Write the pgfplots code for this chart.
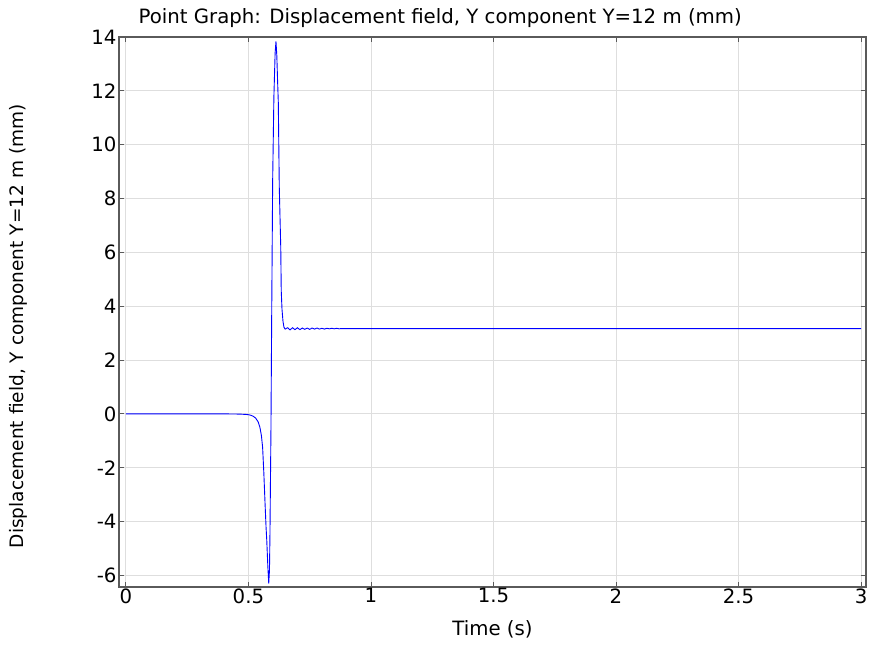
\documentclass[border=0pt]{standalone}
\usepackage{pgfplots}
\pgfplotsset{compat=1.18}
\usepackage{fontspec}
\setmainfont{DejaVu Sans}
\definecolor{gridc}{RGB}{222,222,222}
\definecolor{axc}{RGB}{90,90,90}
\begin{document}
\begin{tikzpicture}
\begin{axis}[
  name=ax,
  scale only axis,
  width=747bp, height=550bp,
  xmin=-0.028, xmax=3.02,
  ymin=-6.43, ymax=14,
  xtick={0,0.5,1,1.5,2,2.5,3},
  xticklabels={0,0.5,1,1.5,2,2.5,3},
  ytick={-6,-4,-2,0,2,4,6,8,10,12,14},
  yticklabels={-6,-4,-2,0,2,4,6,8,10,12,14},
  tick align=inside,
  major tick length=5bp,
  tick style={axc, line width=0.8bp},
  axis line style={axc, line width=1.2bp},
  grid=major,
  major grid style={gridc, line width=0.8bp},
  ticklabel style={font=\fontsize{19.8}{23}\selectfont},
  xticklabel style={yshift=2bp},
  yticklabel style={xshift=1bp},
  label style={font=\fontsize{19.8}{23}\selectfont},
  title style={font=\fontsize{19.8}{23}\selectfont, at={(axis description cs:0.43,1.024)}, anchor=center},
  title={Point Graph: Displacement field, Y component Y=12 m (mm)},
  xlabel={Time (s)},
  ylabel={Displacement field, Y component Y=12 m (mm)},
  xlabel style={at={(axis description cs:0.5,-0.077)}, anchor=center},
  ylabel style={font=\fontsize{18.6}{22}\selectfont, at={(axis description cs:-0.1352,0.474)}, anchor=center},
]
\addplot[color={rgb,255:red,0;green,0;blue,255}, line width=0.9bp] coordinates {
(0,0) (0.40,0) (0.45,-0.005) (0.47,-0.01) (0.49,-0.02) (0.50,-0.03)
(0.51,-0.05) (0.52,-0.09) (0.53,-0.16) (0.54,-0.30) (0.547,-0.50)
(0.553,-0.80) (0.558,-1.24) (0.563,-2.2) (0.568,-3.34) (0.572,-4.2)
(0.575,-4.71) (0.579,-5.6) (0.583,-6.30) (0.586,-5.8) (0.588,-4.45)
(0.590,-2.5) (0.592,-0.62) (0.595,3.59) (0.599,8.67) (0.604,11.77)
(0.609,13.4) (0.6125,13.84) (0.616,13.3) (0.619,12.4) (0.622,11.58)
(0.626,8.42) (0.632,6.19) (0.634,4.58) (0.637,3.90) (0.641,3.45)
(0.645,3.22) (0.65,3.15) (0.66,3.20) (0.67,3.12) (0.68,3.20) (0.69,3.13)
(0.70,3.20) (0.71,3.13) (0.72,3.19) (0.73,3.14) (0.74,3.19) (0.75,3.14)
(0.76,3.19) (0.77,3.15) (0.78,3.19) (0.79,3.15) (0.80,3.18) (0.81,3.15)
(0.82,3.18) (0.83,3.16) (0.84,3.18) (0.85,3.16) (0.86,3.18) (0.87,3.16)
(0.88,3.17) (0.90,3.17) (1.5,3.17) (3.0,3.17)
};
\end{axis}
\pgfresetboundingbox
\path ([shift={(-119bp,-66bp)}]ax.south west) rectangle ([shift={(7bp,37bp)}]ax.north east);
\end{tikzpicture}
\end{document}
